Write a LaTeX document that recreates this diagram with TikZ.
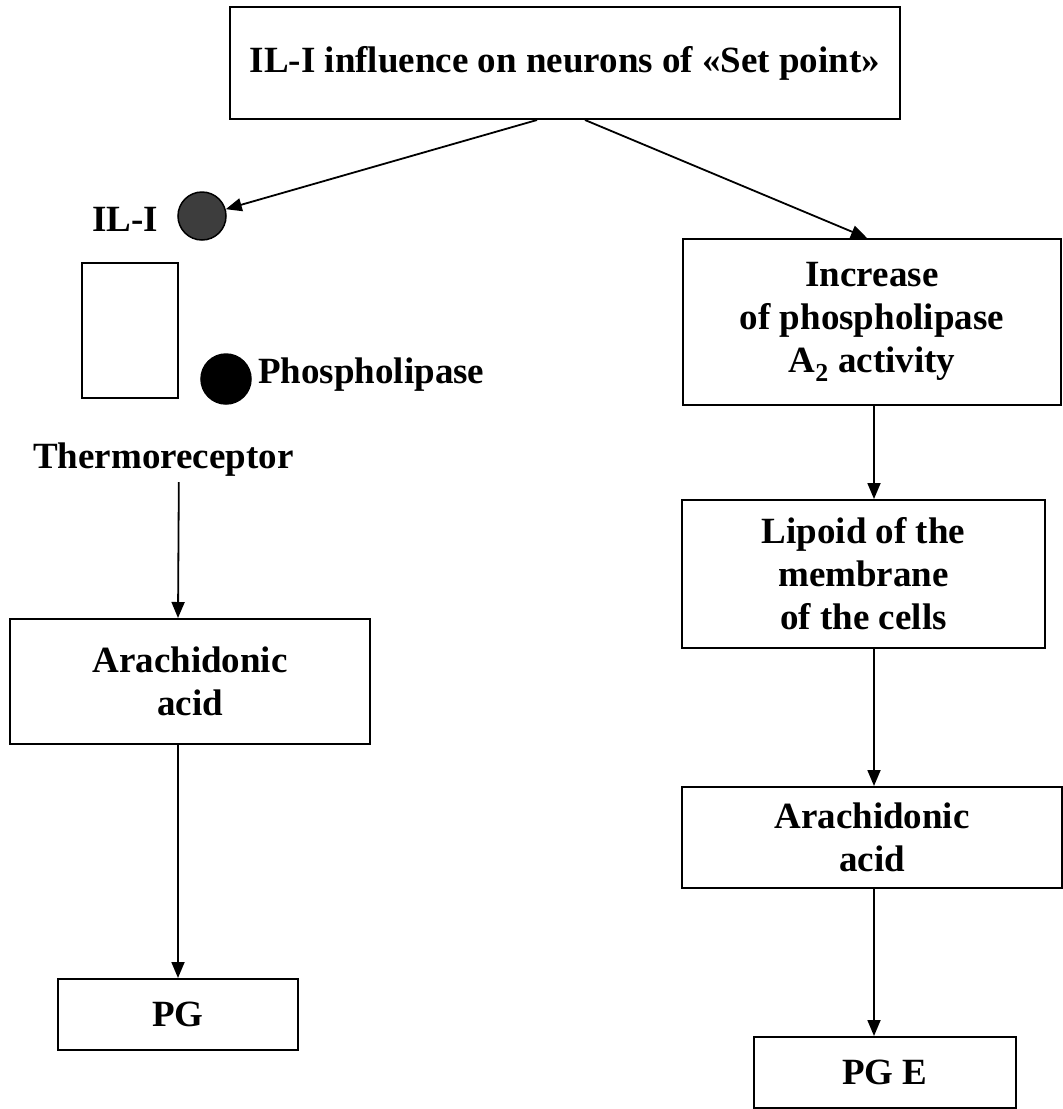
\documentclass[tikz,border=0pt]{standalone}
\usepackage{fontspec}
\setmainfont{Liberation Serif}
\usetikzlibrary{arrows.meta}
\begin{document}
\begin{tikzpicture}[x=1pt,y=-1pt,
  lbl/.style={font=\fontsize{37}{43}\selectfont\bfseries, inner sep=0pt},
  blk/.style={draw, line width=2pt, align=center, inner sep=0pt,
              font=\fontsize{37}{43}\selectfont\bfseries},
  dot/.style={circle, draw, line width=1.5pt, inner sep=0pt},
  flow/.style={-{Triangle[length=16pt,width=13pt]}, line width=1.8pt}]
\useasboundingbox (0,0) rectangle (1063,1109);

% title box
\node[blk, minimum width=670pt, minimum height=112pt] (top) at (565,63)
  {IL-I influence on neurons of «Set point»};

% left branch: receptor sketch
\node[dot, fill=black!76, minimum size=48pt] (ilc) at (202,216) {};
\node[lbl, anchor=base west] (ill) at (92,231) {IL-I};
\node[draw, line width=1.8pt, minimum width=96pt, minimum height=135pt, inner sep=0pt] (thbox) at (130,330.5) {};
\node[dot, fill=black, minimum size=50pt] (phc) at (226,379) {};
\node[lbl, anchor=base west] (phl) at (258,383) {Phospholipase};
\node[lbl, anchor=base west] (thl) at (33,468) {Thermoreceptor};

\node[blk, minimum width=360pt, minimum height=125pt] (arL) at (190,681.5) {Arachidonic\\acid};
\node[blk, minimum width=240pt, minimum height=71pt] (pg) at (178,1014.5) {PG};

% right branch
\node[blk, minimum width=378pt, minimum height=166pt] (inc) at (872,322)
  {Increase\\of phospholipase\\A\textsubscript{2} activity};
\node[blk, minimum width=363pt, minimum height=148pt] (lip) at (863.5,574)
  {Lipoid of the\\membrane\\of the cells};
\node[blk, minimum width=380pt, minimum height=101pt] (arR) at (872,837.5) {Arachidonic\\acid};
\node[blk, minimum width=262pt, minimum height=71pt] (pge) at (885,1072.5) {PG E};

% connectors
\draw[flow] ([xshift=-28pt]top.south) -- (ilc);
\draw[flow] ([xshift=20pt]top.south) -- ([xshift=-5pt]inc.north);
\draw[flow] ([xshift=15.5pt,yshift=-6pt]thl.south) -- ([xshift=-12pt]arL.north);
\draw[flow] ([xshift=-12pt]arL.south) -- (pg.north);
\draw[flow] ([xshift=2pt]inc.south) -- ([xshift=10.5pt]lip.north);
\draw[flow] ([xshift=10.5pt]lip.south) -- ([xshift=2pt]arR.north);
\draw[flow] ([xshift=2pt]arR.south) -- ([xshift=-11pt]pge.north);
\end{tikzpicture}
\end{document}
